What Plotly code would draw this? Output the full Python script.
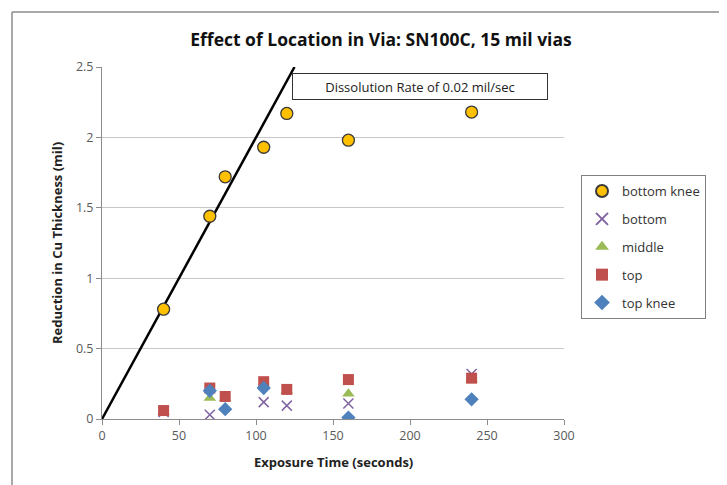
import plotly.graph_objects as go

# Data
bk_x = [40, 70, 80, 105, 120, 160, 240]
bk_y = [0.78, 1.44, 1.72, 1.93, 2.17, 1.98, 2.18]

bot_x = [40, 70, 105, 120, 160, 240]
bot_y = [0.05, 0.03, 0.12, 0.095, 0.11, 0.32]

mid_x = [40, 70, 80, 105, 120, 160, 240]
mid_y = [0.05, 0.15, 0.15, 0.24, 0.2, 0.18, 0.28]

top_x = [40, 70, 80, 105, 120, 160, 240]
top_y = [0.06, 0.22, 0.16, 0.265, 0.21, 0.28, 0.29]

tk_x = [70, 80, 105, 160, 240]
tk_y = [0.2, 0.07, 0.22, 0.01, 0.14]

rate_x = [0, 125]
rate_y = [0, 2.5]

x_ticks = [0, 50, 100, 150, 200, 250, 300]
y_ticks = [0, 0.5, 1, 1.5, 2, 2.5]
y_ticktext = ["0", "0.5", "1", "1.5", "2", "2.5"]

W, H = 719, 477
L, T, PW, PH = 94, 59, 462, 352

fig = go.Figure()
fig.add_trace(go.Scatter(x=rate_x, y=rate_y, mode="lines", line=dict(color="black", width=2.5),
                         showlegend=False, hoverinfo="skip"))
fig.add_trace(go.Scatter(x=bot_x, y=bot_y, mode="markers", name="bottom", legendgroup="b", legendrank=2,
                         marker=dict(symbol="x-thin", size=10, line=dict(color="#8064A2", width=1.5))))
fig.add_trace(go.Scatter(x=mid_x, y=mid_y, mode="markers", name="middle", legendgroup="c", legendrank=3,
                         marker=dict(symbol="triangle-up", size=11, color="#9BBB59")))
fig.add_trace(go.Scatter(x=top_x, y=top_y, mode="markers", name="top", legendgroup="d", legendrank=4,
                         marker=dict(symbol="square", size=11, color="#C0504D")))
fig.add_trace(go.Scatter(x=tk_x, y=tk_y, mode="markers", name="top knee", legendgroup="e", legendrank=5,
                         marker=dict(symbol="diamond", size=11, color="#4F81BD")))
fig.add_trace(go.Scatter(x=bk_x, y=bk_y, mode="markers", name="bottom knee", legendgroup="a", legendrank=1,
                         marker=dict(symbol="circle", size=12, color="#FFC000",
                                     line=dict(color="#3A3A3A", width=1.3))))

fig.add_annotation(x=206.5, y=2.365, xref="x", yref="y", text="Dissolution Rate of 0.02 mil/sec",
                   showarrow=False, font=dict(family="Open Sans, sans-serif", size=13, color="#222"),
                   width=250, height=21, align="center",
                   bordercolor="#333", borderwidth=1, borderpad=2, bgcolor="white")

# axis titles
fig.add_annotation(x=(49 - L) / PW, y=0.5, xref="paper", yref="paper", textangle=-90, showarrow=False,
                   text="<b>Reduction in Cu Thickness (mil)</b>", font=dict(size=13, color="#222"),
                   xanchor="center", yanchor="middle")
fig.add_annotation(x=0.5, y=(T + PH - 454) / PH, xref="paper", yref="paper", showarrow=False,
                   text="<b>Exposure Time (seconds)</b>", font=dict(size=13, color="#222"),
                   xanchor="center", yanchor="middle")

# outer chart border (left, right, top edges)
bx0, bx1 = (4 - L) / PW, (712 - L) / PW
by_top = (T + PH - 4) / PH
by_bot = (T + PH - H - 10) / PH
for (xa, ya, xb, yb) in [(bx0, by_bot, bx0, by_top), (bx1, by_bot, bx1, by_top), (bx0, by_top, bx1, by_top)]:
    fig.add_shape(type="line", xref="paper", yref="paper", x0=xa, y0=ya, x1=xb, y1=yb,
                  line=dict(color="#8c8c8c", width=1.5), layer="above")

fig.update_layout(
    width=W, height=H,
    margin=dict(l=L, r=W - L - PW, t=T, b=H - T - PH, autoexpand=False),
    paper_bgcolor="white", plot_bgcolor="white",
    title=dict(text="<b>Effect of Location in Via: SN100C, 15 mil vias</b>", x=373 / W, xanchor="center",
               y=1 - 32 / H, yanchor="middle",
               font=dict(family="Open Sans, sans-serif", size=17.5, color="#111")),
    font=dict(family="Open Sans, sans-serif", color="#595959"),
    legend=dict(x=(573 - L) / PW, y=(T + PH - 167) / PH, xanchor="left", yanchor="top",
                bordercolor="#808080", borderwidth=1, itemsizing="constant",
                font=dict(size=13, color="#333"), tracegroupgap=8, bgcolor="white", itemwidth=30),
    showlegend=True,
)
fig.update_xaxes(range=[0, 300], tickvals=x_ticks, showgrid=False,
                 showline=True, linecolor="#8c8c8c", ticks="outside", tickcolor="#8c8c8c", ticklen=5,
                 tickfont=dict(size=12.5, color="#595959"), zeroline=False, automargin=False)
fig.update_yaxes(range=[0, 2.5], tickvals=y_ticks, ticktext=y_ticktext,
                 showgrid=True, gridcolor="#c8c8c8", showline=True, linecolor="#8c8c8c",
                 ticks="outside", tickcolor="#8c8c8c", ticklen=5, zeroline=False, automargin=False,
                 tickfont=dict(size=12.5, color="#595959"))

fig.write_html("out.html", config={"displayModeBar": False})
